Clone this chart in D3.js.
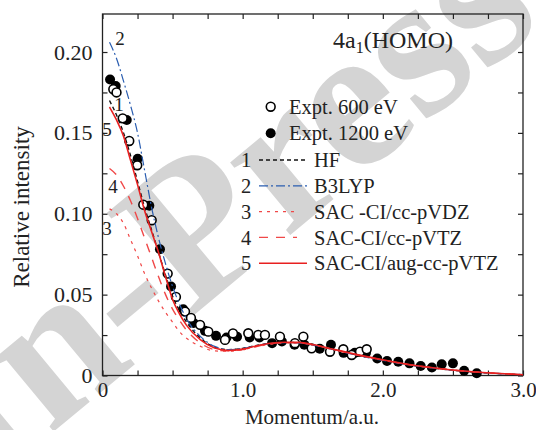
<!DOCTYPE html>
<html>
<head>
<meta charset="utf-8">
<script src="https://cdn.jsdelivr.net/npm/d3@7/dist/d3.min.js"></script>
<style>
  body { margin: 0; background: #fff; }
  svg text { font-family: "Liberation Serif", "Times New Roman", serif; fill: #222; }
</style>
</head>
<body>
<div id="chart"></div>
<script>
// momentum grid for the theory curves (a.u.)
const momentum = [0.05, 0.1, 0.15, 0.2, 0.25, 0.3, 0.35, 0.4, 0.45, 0.5, 0.55, 0.6, 0.7, 0.8, 0.9,
  1.0, 1.1, 1.2, 1.3, 1.4, 1.5, 1.6, 1.8, 2.0, 2.2, 2.4, 2.6, 2.8, 3.0];

const hf = [0.170, 0.161, 0.150, 0.136, 0.120, 0.104, 0.090, 0.076, 0.062, 0.049, 0.040, 0.033, 0.023, 0.0175, 0.016,
  0.0168, 0.0186, 0.0200, 0.0205, 0.0203, 0.0190, 0.0170, 0.0130, 0.0095, 0.0065, 0.0042, 0.0025, 0.0013, 0.0005];
const b3lyp = [0.206, 0.196, 0.182, 0.167, 0.150, 0.127, 0.104, 0.085, 0.069, 0.055, 0.044, 0.035, 0.024, 0.018, 0.016,
  0.0168, 0.0185, 0.0198, 0.0203, 0.0201, 0.0188, 0.0170, 0.0128, 0.0093, 0.0064, 0.0042, 0.0025, 0.0013, 0.0005];
const sacVDZ = [0.103, 0.100, 0.094, 0.084, 0.074, 0.063, 0.054, 0.046, 0.039, 0.033, 0.027, 0.023, 0.018, 0.0152, 0.015,
  0.016, 0.0178, 0.0194, 0.0201, 0.0201, 0.0189, 0.0170, 0.0130, 0.0095, 0.0065, 0.0043, 0.0026, 0.0014, 0.0005];
const sacVTZ = [0.128, 0.124, 0.117, 0.108, 0.097, 0.085, 0.073, 0.061, 0.050, 0.041, 0.034, 0.028, 0.020, 0.016, 0.0152,
  0.016, 0.018, 0.0196, 0.0203, 0.0202, 0.019, 0.017, 0.013, 0.0096, 0.0065, 0.0043, 0.0026, 0.0014, 0.0005];
const sacAugVTZ = [0.166, 0.158, 0.148, 0.133, 0.118, 0.102, 0.089, 0.076, 0.061, 0.047, 0.038, 0.031, 0.022, 0.017, 0.0155,
  0.0163, 0.0183, 0.0199, 0.0206, 0.0205, 0.0192, 0.0172, 0.0132, 0.0097, 0.0066, 0.0043, 0.0026, 0.0014, 0.0005];

// experiment, 600 eV (open circles)
const p600 = [0.077, 0.100, 0.144, 0.191, 0.248, 0.291, 0.351, 0.465, 0.524, 0.589, 0.631, 0.696, 0.755, 0.874, 0.931,
  1.040, 1.111, 1.159, 1.266, 1.373, 1.433, 1.492, 1.623, 1.718, 1.778, 1.837, 1.885];
const i600 = [0.177, 0.175, 0.159, 0.145, 0.130, 0.1056, 0.096, 0.063, 0.0486, 0.0395, 0.0356, 0.0313, 0.0271, 0.022, 0.026,
  0.0261, 0.0251, 0.0251, 0.024, 0.020, 0.024, 0.0168, 0.0147, 0.0162, 0.0127, 0.0147, 0.0162];

// experiment, 1200 eV (filled circles)
const p1200 = [0.054, 0.094, 0.173, 0.251, 0.334, 0.410, 0.489, 0.576, 0.650, 0.731, 0.810, 0.885, 0.960, 1.05, 1.12,
  1.21, 1.28, 1.37, 1.44, 1.55, 1.63, 1.72, 1.80, 1.88, 1.96, 2.03, 2.11, 2.19, 2.27, 2.35, 2.42, 2.50, 2.58, 2.67];
const i1200 = [0.183, 0.179, 0.158, 0.134, 0.105, 0.078, 0.055, 0.041, 0.0325, 0.0276, 0.0245, 0.0235, 0.024, 0.0235, 0.0235,
  0.020, 0.021, 0.019, 0.019, 0.0165, 0.019, 0.014, 0.014, 0.014, 0.0105, 0.009, 0.0085, 0.0075, 0.0059, 0.0049, 0.007, 0.0075, 0.0029, 0.0014];

const xTicks = [0, 1.0, 2.0, 3.0];
const yTicks = [0, 0.05, 0.10, 0.15, 0.20];

const series = [
  { id: "1", name: "HF", values: hf, color: "#111", dash: "4,3", width: 1.4, legendLen: 48 },
  { id: "2", name: "B3LYP", values: b3lyp, color: "#2a5db0", dash: "9,3,2,3", width: 1.2, legendLen: 48 },
  { id: "3", name: "SAC -CI/cc-pVDZ", values: sacVDZ, color: "#f04848", dash: "3,5", width: 1.2, legendLen: 38 },
  { id: "4", name: "SAC-CI/cc-pVTZ", values: sacVTZ, color: "#f04848", dash: "9,8", width: 1.4, legendLen: 38 },
  { id: "5", name: "SAC-CI/aug-cc-pVTZ", values: sacAugVTZ, color: "#e82020", dash: null, width: 1.6, legendLen: 48 }
];

const W = 536, H = 430;
const margin = { top: 14, right: 13, bottom: 54.5, left: 102.5 };
const width = W - margin.left - margin.right,
      height = H - margin.top - margin.bottom;

const svg = d3.select("#chart").append("svg")
  .attr("width", W).attr("height", H);

// faint watermark behind the plot
svg.append("text")
  .attr("transform", "translate(-12,486) rotate(-39.7)")
  .style("font-size", "205px")
  .style("font-weight", "bold")
  .style("fill", "#d4d4d4")
  .text("In-Press");

const g = svg.append("g").attr("transform", `translate(${margin.left},${margin.top})`);

const x = d3.scaleLinear().domain([0, 3]).range([0, width]);
const y = d3.scaleLinear().domain([0, 0.2235]).range([height, 0]);

// frame
g.append("rect").attr("width", width).attr("height", height)
  .attr("fill", "none").attr("stroke", "#222").attr("stroke-width", 1.3);

// ticks (inward on all four sides)
const xMinor = d3.range(0, 3.0001, 0.25);
const yMinor = d3.range(0, 0.2235, 0.025);
const tickLen = 5;
g.append("g").call(d3.axisBottom(x).tickValues(xMinor).tickSize(-tickLen).tickFormat(""))
  .attr("transform", `translate(0,${height})`).call(a => a.select(".domain").remove());
g.append("g").call(d3.axisTop(x).tickValues(xMinor).tickSize(-tickLen).tickFormat(""))
  .call(a => a.select(".domain").remove());
g.append("g").call(d3.axisLeft(y).tickValues(yMinor).tickSize(-tickLen).tickFormat(""))
  .call(a => a.select(".domain").remove());
g.append("g").call(d3.axisRight(y).tickValues(yMinor).tickSize(-tickLen).tickFormat(""))
  .attr("transform", `translate(${width},0)`).call(a => a.select(".domain").remove());
g.selectAll(".tick line").attr("stroke", "#222").attr("stroke-width", 1.2);

// tick labels
g.append("g").call(d3.axisBottom(x).tickValues(xTicks).tickSize(0).tickPadding(7)
    .tickFormat(d => d === 0 ? "0" : d3.format(".1f")(d)))
  .attr("transform", `translate(0,${height})`)
  .call(a => a.select(".domain").remove())
  .selectAll("text").style("font-size", "21px").style("font-family", "Liberation Serif").attr("fill", "#222");
g.append("g").call(d3.axisLeft(y).tickValues(yTicks).tickSize(0).tickPadding(10)
    .tickFormat(d => d === 0 ? "0" : d3.format(".2f")(d)))
  .call(a => a.select(".domain").remove())
  .selectAll("text").style("font-size", "22px").style("font-family", "Liberation Serif").attr("fill", "#222");

// axis titles
svg.append("text")
  .attr("transform", "translate(21,207) rotate(-90)")
  .attr("text-anchor", "middle").attr("dy", "0.35em")
  .style("font-size", "23px")
  .text("Relative intensity");
svg.append("text")
  .attr("x", 312).attr("y", 424)
  .attr("text-anchor", "middle")
  .style("font-size", "21px")
  .text("Momentum/a.u.");

// experimental points
g.selectAll(".e1200").data(d3.zip(p1200, i1200)).enter().append("circle")
  .attr("cx", d => x(d[0])).attr("cy", d => y(d[1])).attr("r", 5)
  .attr("fill", "#000");
g.selectAll(".e600").data(d3.zip(p600, i600)).enter().append("circle")
  .attr("cx", d => x(d[0])).attr("cy", d => y(d[1])).attr("r", 4.4)
  .attr("fill", "#fff").attr("stroke", "#000").attr("stroke-width", 1.6);

// theory curves
const line = d3.line().x(d => x(d[0])).y(d => y(d[1])).curve(d3.curveMonotoneX);
series.forEach(s => {
  g.append("path")
    .datum(d3.zip(momentum, s.values))
    .attr("d", line)
    .attr("fill", "none")
    .attr("stroke", s.color)
    .attr("stroke-width", s.width)
    .attr("stroke-dasharray", s.dash);
});

// curve number labels near the start
const curveLabels = [["2", 120, 38], ["1", 119, 104], ["5", 107, 129], ["4", 113, 186], ["3", 107, 228]];
svg.selectAll(".clab").data(curveLabels).enter().append("text")
  .attr("x", d => d[1]).attr("y", d => d[2]).attr("dy", "0.35em")
  .attr("text-anchor", "middle")
  .style("font-size", "19px").attr("fill", "#333")
  .text(d => d[0]);

// title
svg.append("text").attr("x", 333).attr("y", 40).attr("dy", "0.35em")
  .style("font-size", "24px")
  .html('4a<tspan dy="5" font-size="16px">1</tspan><tspan dy="-5">(HOMO)</tspan>');

// legend
const leg = svg.append("g");
const legY0 = 106.7, legStep = 26.6;
leg.append("circle").attr("cx", 270.7).attr("cy", legY0).attr("r", 4.4)
  .attr("fill", "#fff").attr("stroke", "#000").attr("stroke-width", 1.6);
leg.append("text").attr("x", 289).attr("y", legY0).attr("dy", "0.35em").style("font-size", "20.5px").text("Expt. 600 eV");
leg.append("circle").attr("cx", 270.7).attr("cy", legY0 + legStep).attr("r", 5).attr("fill", "#000");
leg.append("text").attr("x", 289).attr("y", legY0 + legStep).attr("dy", "0.35em").style("font-size", "20.5px").text("Expt. 1200 eV");

series.forEach((s, i) => {
  const yy = 160 + i * 25.8;
  leg.append("text").attr("x", 246).attr("y", yy).attr("dy", "0.35em")
    .attr("text-anchor", "middle").style("font-size", "20.5px").text(s.id);
  leg.append("line").attr("x1", 259).attr("x2", 259 + s.legendLen).attr("y1", yy).attr("y2", yy)
    .attr("stroke", s.color).attr("stroke-width", s.width).attr("stroke-dasharray", s.dash);
  leg.append("text").attr("x", 314).attr("y", yy).attr("dy", "0.35em").style("font-size", "20.5px").text(s.name);
});
</script>
</body>
</html>
